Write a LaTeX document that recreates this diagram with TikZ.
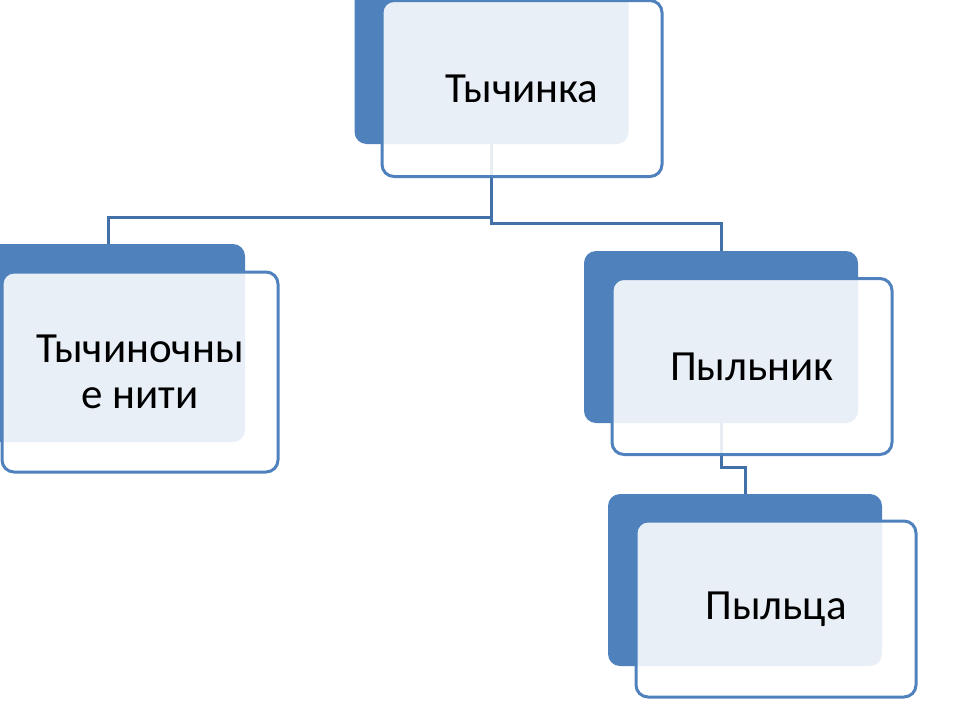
\documentclass[tikz,border=0pt]{standalone}
\usepackage{fontspec}
\setmainfont{Carlito}
\definecolor{smartblue}{HTML}{4F81BD}
\definecolor{linkblue}{HTML}{4470A8}
\begin{document}
\begin{tikzpicture}[x=1pt,y=-1pt,
    cardback/.style={fill=smartblue,rounded corners=12pt,minimum width=274pt,minimum height=172pt,inner sep=0pt},
    card/.style={draw=smartblue,line width=3pt,fill=white,fill opacity=0.88,text opacity=1,rounded corners=12pt,
      minimum width=280pt,minimum height=176pt,inner sep=0pt,align=center,font=\fontsize{43}{46}\selectfont},
    link/.style={draw=linkblue,line width=3pt}]
  \useasboundingbox (0,0) rectangle (960,720);
  \clip (0,0) rectangle (960,720);
  % back cards
  \node[cardback] (stamenback) at (491.5,58) {};
  \node[cardback,minimum width=273pt,minimum height=198pt] (filamentback) at (108.5,343) {};
  \node[cardback] (antherback) at (721,337) {};
  \node[cardback] (pollenback) at (745,580) {};
  % links
  \draw[link] (stamenback.south) -- ++(0,73) -| (filamentback.north);
  \draw[link] (stamenback.south) -- ++(0,79) -| (antherback.north);
  \draw[link] (antherback.south) -- ++(0,44) -| (pollenback.north);
  % front cards
  \node[card] (stamen) at (522,88.5) {Тычинка};
  \node[card,minimum width=276pt,minimum height=200pt] (filament) at (140,372) {Тычиночны\\е нити};
  \node[card] (anther) at (752,366.5) {Пыльник};
  \node[card] (pollen) at (776,609) {Пыльца};
\end{tikzpicture}
\end{document}
